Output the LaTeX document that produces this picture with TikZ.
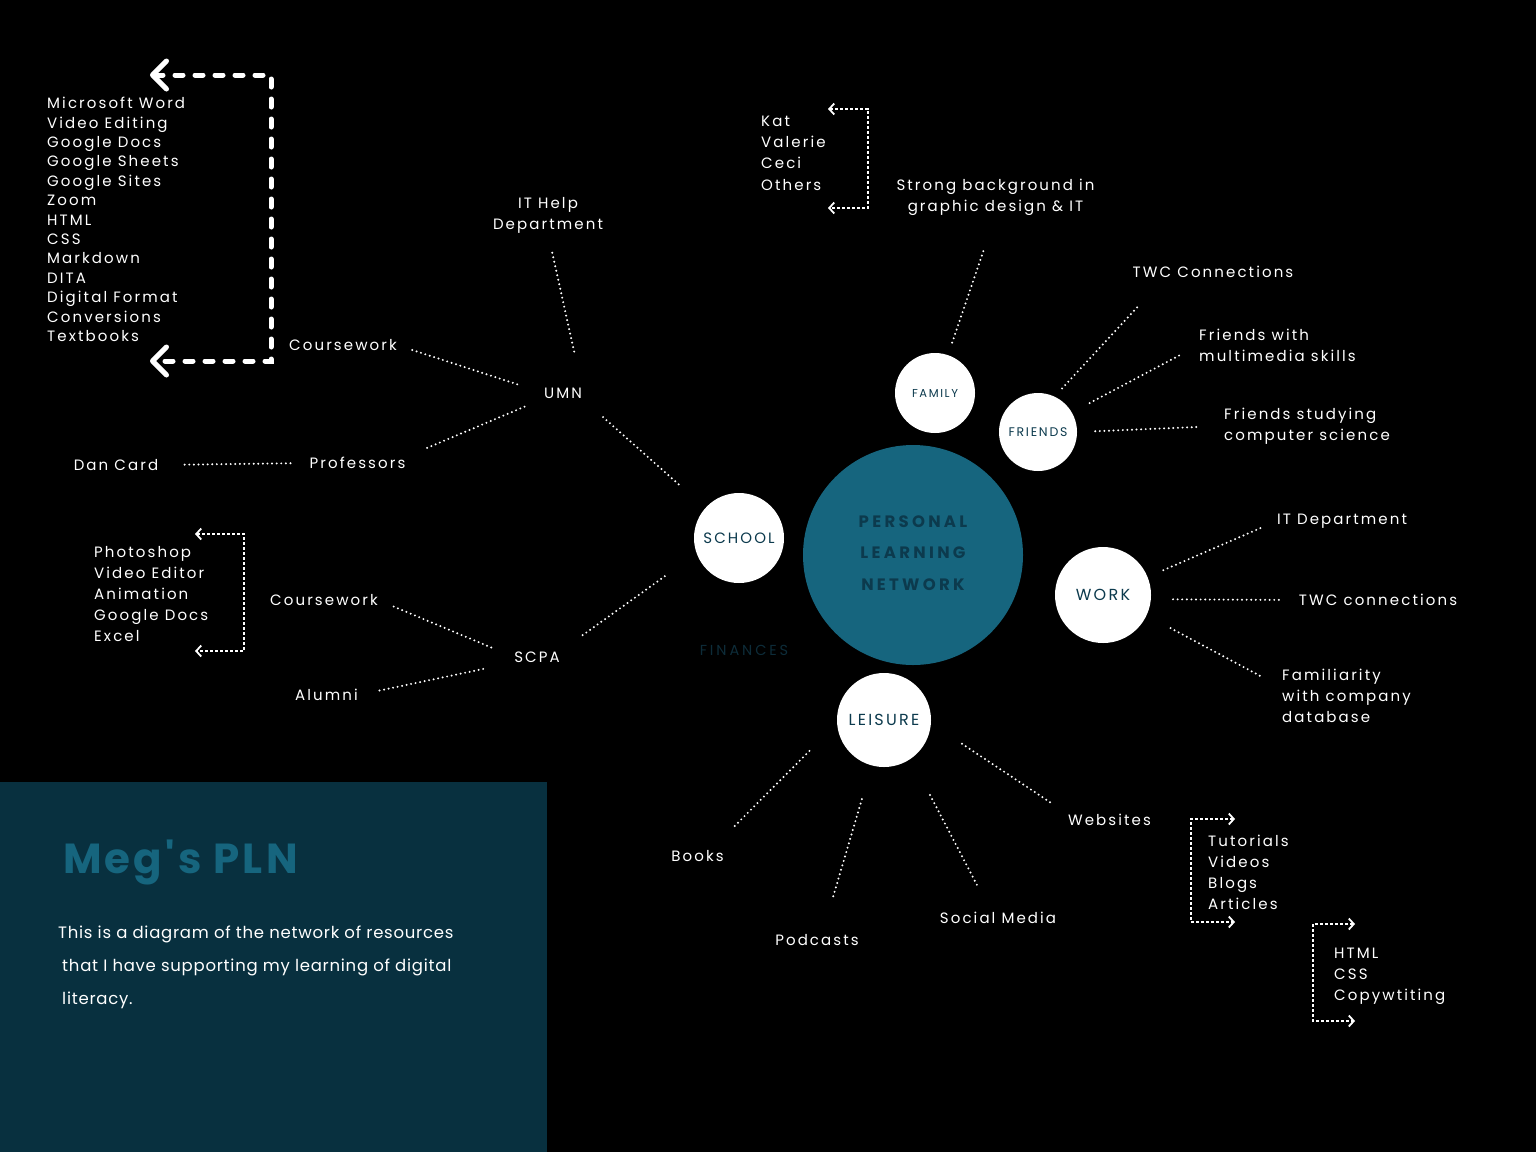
\documentclass[tikz,border=0pt]{standalone}
\usepackage{fontspec}
\setmainfont{Poppins}
\newfontfamily\plnfont{Poppins}[LetterSpace=14]
\newfontfamily\plnwide{Poppins}[LetterSpace=20]
\newfontfamily\plntext{Poppins}[LetterSpace=4.5]
\newfontfamily\plntitle{Poppins}[LetterSpace=7.5]
\usetikzlibrary{arrows.meta,positioning}

\definecolor{plnteal}{HTML}{16657E}
\definecolor{plnnavy}{HTML}{0C3A4D}
\definecolor{plnpanel}{HTML}{08303F}
\definecolor{plnfaint}{HTML}{0D2C39}

\begin{document}
\begin{tikzpicture}[x=1pt,y=-1pt,
    lbl/.style={text=white,inner sep=0pt,font=\plnfont\fontsize{15}{21}\selectfont},
    lst/.style={lbl,align=left,anchor=north west,font=\plnfont\fontsize{15}{#1}\selectfont},
    lst/.default=19.4,
    hub/.style={circle,fill=white,inner sep=0pt,text=plnnavy,minimum size=#1},
    link/.style 2 args={draw=white,line width=2.2pt,line cap=round,dash pattern=on 0pt off 4.6pt,shorten <=#1,shorten >=#2},
    brk/.style={draw=white,line width=1.8pt,dash pattern=on 3pt off 2pt,{Straight Barb[length=5pt,width=11pt]}-{Straight Barb[length=5pt,width=11pt]}},
    bigbrk/.style={draw=white,line width=5pt,line cap=round,dash pattern=on 8pt off 12pt,{Straight Barb[length=14pt,width=28pt,round]}-{Straight Barb[length=14pt,width=28pt,round]}}]
       \useasboundingbox (0,0) rectangle (1536,1152);
       \fill[black] (0,0) rectangle (1536,1152);
       \fill[plnpanel] (0,782) rectangle (547,1152);

       % bracket corners
       \coordinate (SW1) at (150,75);
       \coordinate (SW2) at (271,75);
       \coordinate (SW3) at (271,361);
       \coordinate (SW4) at (150,361);

       \coordinate (AD1) at (195,534);
       \coordinate (AD2) at (244,534);
       \coordinate (AD3) at (244,651);
       \coordinate (AD4) at (195,651);

       \coordinate (KT1) at (828,109);
       \coordinate (KT2) at (868,109);
       \coordinate (KT3) at (868,208);
       \coordinate (KT4) at (828,208);

       \coordinate (TU1) at (1235,819);
       \coordinate (TU2) at (1191,819);
       \coordinate (TU3) at (1191,922);
       \coordinate (TU4) at (1235,922);

       \coordinate (CD1) at (1355,924);
       \coordinate (CD2) at (1313,924);
       \coordinate (CD3) at (1313,1021);
       \coordinate (CD4) at (1355,1021);

       % hubs
       \node[circle,fill=plnteal,minimum size=220,inner sep=0pt] (pln) at (913,555) {};
       \node[text=plnnavy,align=center,inner sep=0pt,
             font=\plnwide\bfseries\fontsize{16.5}{31.5}\selectfont] (plntxt) at (913,553) {PERSONAL\\LEARNING\\NETWORK};
       \node[hub=90,font=\plnfont\fontsize{15}{17}\selectfont] (school) at (739,538) {SCHOOL};
       \node[hub=80,font=\plnfont\fontsize{11.5}{13}\selectfont] (family) at (935,393) {FAMILY};
       \node[hub=78,font=\plnfont\fontsize{12.5}{14}\selectfont] (friends) at (1038,432) {FRIENDS};
       \node[hub=96,font=\plnfont\fontsize{16}{18}\selectfont] (work) at (1103,595) {WORK};
       \node[hub=94,font=\plnfont\fontsize{16}{18}\selectfont] (leisure) at (884,720) {LEISURE};
       \node[lbl,text=plnfaint,font=\plnwide\fontsize{14.5}{17}\selectfont] (fin) at (744,650) {FINANCES};

       % school side
       \node[lst] (swlist) at (47,97) {Microsoft Word\\Video Editing\\Google Docs\\Google Sheets\\Google Sites\\Zoom\\HTML\\CSS\\Markdown\\DITA\\Digital Format\\Conversions\\Textbooks};
       \node[lbl] (cw1) at (343,345) {Coursework};
       \node[lbl] (umn) at (563,393) {UMN};
       \node[lbl,align=center] (ith) at (548,215) {IT Help\\Department};
       \node[lbl] (prof) at (357.5,463) {Professors};
       \node[lbl] (dan) at (116,465) {Dan Card};
       \node[lbl] (scpa) at (537,657) {SCPA};
       \node[lbl] (cw2) at (324,600) {Coursework};
       \node[lbl] (alum) at (326.5,695) {Alumni};
       \node[lst=21] (adlist) at (94,546) {Photoshop\\Video Editor\\Animation\\Google Docs\\Excel};

       % family and friends
       \node[lbl,align=center] (bg) at (995.5,197) {Strong background in\\graphic design \& IT};
       \node[lst=21.3] (kat) at (761,115.5) {Kat\\Valerie\\Ceci\\Others};
       \node[lbl] (twc1) at (1213,272) {TWC Connections};
       \node[lst=21] (fwm) at (1199,328.5) {Friends with\\multimedia skills};
       \node[lst=21] (fsc) at (1224,407.5) {Friends studying\\computer science};

       % work
       \node[lbl] (itd) at (1342,521) {IT Department};
       \node[lbl] (twc2) at (1378,600) {TWC connections};
       \node[lst=21] (fam) at (1282,668.5) {Familiarity\\with company\\database};

       % leisure
       \node[lbl] (books) at (697.5,856) {Books};
       \node[lbl] (pod) at (817,940) {Podcasts};
       \node[lbl] (social) at (998,918) {Social Media};
       \node[lbl] (web) at (1109.5,820) {Websites};
       \node[lst=21] (tut) at (1208,834.5) {Tutorials\\Videos\\Blogs\\Articles};
       \node[lst=21] (code) at (1334,947.5) {HTML\\CSS\\Copywtiting};

       % panel
       \node[anchor=base west,inner sep=0pt,text=plnteal,font=\plntitle\bfseries\fontsize{42}{50}\selectfont] (title) at (63,873) {Meg{\char"0027}s PLN};
       \node[anchor=north west,inner sep=0pt,align=left,text=white,font=\plntext\fontsize{16.5}{33}\selectfont] (blurb) at (58,926)
            {This is a diagram of the network of resources\\\hspace*{4pt}that I have supporting my learning of digital\\\hspace*{4pt}literacy.};

       % connectors
       \draw[link={16}{28}] (cw1.east) -- (umn.west);
       \draw[link={20}{33}] (ith.south) -- (umn.north east);
       \draw[link={21}{23}] (umn.south west) -- (prof.north east);
       \draw[link={19}{25}] (prof.west) -- (dan.east);
       \draw[link={28}{31}] (umn.south east) -- (school);
       \draw[link={39}{25}] (school.200) -- (scpa.north east);
       \draw[link={17}{23}] (cw2.east) -- (scpa.west);
       \draw[link={22}{29}] (alum.east) -- (scpa.south west);

       \draw[link={13}{35}] (family) -- (bg.south);
       \draw[link={11}{40}] (friends.65) -- (twc1.187);
       \draw[link={20}{19}] (friends.30) -- (fwm.west);
       \draw[link={18}{25}] (friends.east) -- (fsc.west);

       \draw[link={17}{15}] (work.22) -- (itd.west);
       \draw[link={22}{16}] (work.-5) -- (twc2.west);
       \draw[link={27}{25}] (work.-25) -- (fam.173);

       \draw[link={39}{34}] (leisure.184) -- (books.24);
       \draw[link={35}{36}] (leisure.255) -- (pod.49);
       \draw[link={41}{28}] (leisure.-55) -- (social.139);
       \draw[link={37}{21}] (leisure.-4) -- (web.north west);

       % brackets
       \draw[bigbrk] (SW1) -- (SW2) -- (SW3) -- (SW4);
       \draw[brk] (AD1) -- (AD2) -- (AD3) -- (AD4);
       \draw[brk] (KT1) -- (KT2) -- (KT3) -- (KT4);
       \draw[brk] (TU1) -- (TU2) -- (TU3) -- (TU4);
       \draw[brk] (CD1) -- (CD2) -- (CD3) -- (CD4);
\end{tikzpicture}
\end{document}
